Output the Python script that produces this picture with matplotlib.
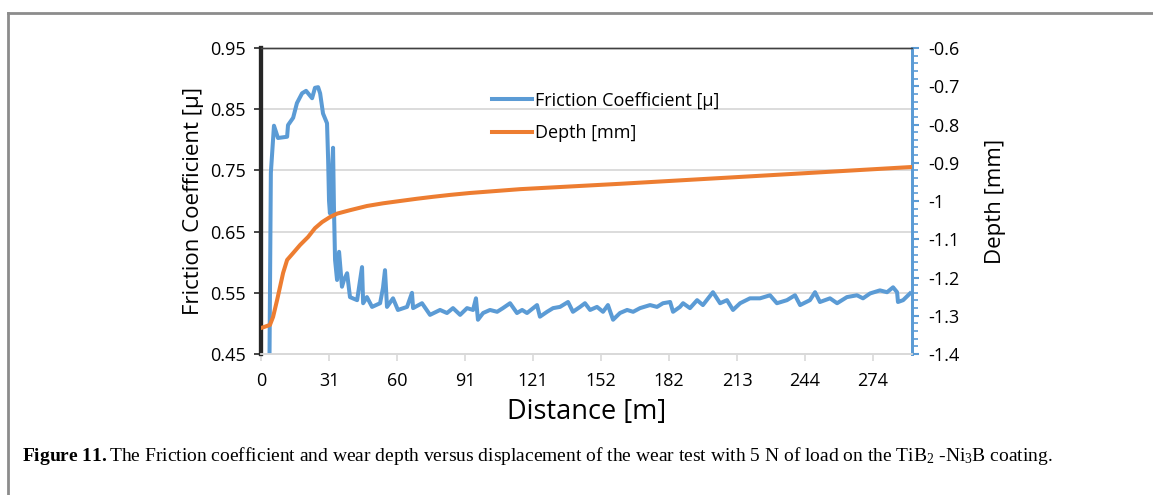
"""Friction coefficient and wear depth versus sliding distance (TiB2-Ni3B coating, 5 N)."""

import matplotlib

matplotlib.use("Agg")
import matplotlib.pyplot as plt  # noqa: E402
import numpy as np  # noqa: E402
from matplotlib.lines import Line2D  # noqa: E402

plt.rcParams["font.family"] = ["Open Sans", "DejaVu Sans"]
plt.rcParams["mathtext.fontset"] = "custom"
plt.rcParams["mathtext.rm"] = "Liberation Serif"
plt.rcParams["mathtext.bf"] = "Liberation Serif:bold"
plt.rcParams["mathtext.it"] = "Liberation Serif:italic"

# --------------------------------------------------------------------------- #
# Data
# --------------------------------------------------------------------------- #
friction_dist = [
    3.5, 4.4, 5.8, 7.6, 11.7, 12.1, 14.4, 16.1, 18.4, 20.2, 22.9, 24.2, 25.6,
    26.5, 27.8, 29.6, 30.1, 30.5, 30.9, 32.3, 32.7, 33.2, 34.1, 35.0, 36.3,
    37.2, 38.6, 39.9, 43.1, 45.3, 45.8, 47.5, 49.8, 53.4, 54.7, 55.6, 56.5,
    59.2, 61.4, 65.5, 67.7, 68.2, 72.2, 75.8, 80.3, 83.4, 86.1, 89.3, 92.4,
    95.1, 96.4, 97.3, 99.6, 102.7, 105.9, 108.5, 111.7, 114.8, 117.1, 119.3,
    123.8, 125.1, 128.3, 131.0, 134.1, 137.7, 139.9, 143.1, 145.3, 147.6,
    150.7, 153.4, 155.6, 157.9, 161.0, 164.2, 166.9, 170.0, 174.5, 177.6,
    180.3, 183.5, 184.8, 187.9, 189.3, 192.4, 195.6, 198.2, 202.7, 205.9,
    209.0, 211.7, 214.9, 219.3, 223.8, 228.3, 231.4, 235.9, 239.5, 241.8,
    246.2, 248.5, 250.7, 255.2, 258.4, 262.8, 267.3, 270.0, 273.2, 277.6,
    280.8, 283.5, 285.3, 285.7, 288.0, 291.1,
]
friction_mu = [
    0.30, 0.746, 0.823, 0.803, 0.805, 0.824, 0.836, 0.860, 0.876, 0.880,
    0.868, 0.885, 0.886, 0.876, 0.843, 0.827, 0.767, 0.700, 0.680, 0.787,
    0.690, 0.604, 0.571, 0.617, 0.560, 0.571, 0.582, 0.543, 0.538, 0.592,
    0.533, 0.543, 0.527, 0.533, 0.558, 0.587, 0.527, 0.541, 0.522, 0.527,
    0.550, 0.525, 0.533, 0.514, 0.522, 0.517, 0.525, 0.514, 0.525, 0.522,
    0.541, 0.506, 0.517, 0.522, 0.519, 0.525, 0.533, 0.517, 0.522, 0.517,
    0.530, 0.511, 0.519, 0.525, 0.527, 0.535, 0.519, 0.527, 0.533, 0.522,
    0.527, 0.519, 0.530, 0.506, 0.517, 0.522, 0.519, 0.525, 0.530, 0.527,
    0.533, 0.535, 0.519, 0.527, 0.533, 0.525, 0.538, 0.530, 0.551, 0.533,
    0.538, 0.522, 0.533, 0.541, 0.541, 0.546, 0.533, 0.538, 0.546, 0.530,
    0.538, 0.551, 0.535, 0.541, 0.533, 0.543, 0.546, 0.541, 0.549, 0.554,
    0.551, 0.559, 0.551, 0.535, 0.538, 0.549,
]

depth_dist = [
    0.0, 4.0, 5.4, 7.2, 8.5, 9.9, 11.7, 14.4, 17.5, 21.1, 24.2, 27.4, 30.9,
    34.1, 39.9, 47.5, 54.7, 62.3, 70.0, 77.1, 84.8, 93.7, 116.2, 138.6,
    161.0, 196.9, 241.8, 292.0,
]
depth_mm = [
    -1.332, -1.324, -1.303, -1.259, -1.225, -1.188, -1.154, -1.136, -1.115,
    -1.094, -1.071, -1.055, -1.042, -1.033, -1.024, -1.013, -1.006, -1.000,
    -0.994, -0.989, -0.984, -0.979, -0.969, -0.962, -0.955, -0.943, -0.928,
    -0.911,
]

x_tick_labels = ["0", "31", "60", "91", "121", "152", "182", "213", "244", "274"]
x_tick_step = 30.5
mu_ticks = [0.45, 0.55, 0.65, 0.75, 0.85, 0.95]
depth_ticks = [-1.4, -1.3, -1.2, -1.1, -1.0, -0.9, -0.8, -0.7, -0.6]
depth_tick_labels = ["-1.4", "-1.3", "-1.2", "-1.1", "-1", "-0.9", "-0.8", "-0.7", "-0.6"]

BLUE = "#5B9BD5"
ORANGE = "#ED7D31"
GRID = "#D9D9D9"


def main() -> None:
    fig = plt.figure(figsize=(11.53, 4.95), dpi=100)
    ax = fig.add_axes((0.2264, 0.2848, 0.5646, 0.6182))
    ax2 = ax.twinx()

    # grid + spines
    ax.set_ylim(0.45, 0.95)
    ax.set_xlim(0, 292)
    ax.set_yticks(mu_ticks)
    ax.set_yticklabels([f"{v:.2f}" for v in mu_ticks])
    ax.yaxis.grid(True, color=GRID, lw=1.3)
    ax.set_axisbelow(True)
    ax.set_xticks(np.arange(len(x_tick_labels)) * x_tick_step)
    ax.set_xticklabels(x_tick_labels)

    for a in (ax, ax2):
        a.spines["top"].set_color("#404040")
        a.spines["top"].set_linewidth(1.0)
        a.spines["bottom"].set_color(GRID)
        a.spines["bottom"].set_linewidth(1.3)
        a.spines["left"].set_color("#262626")
        a.spines["left"].set_linewidth(3.0)
        a.spines["right"].set_color(BLUE)
        a.spines["right"].set_linewidth(2.0)

    ax.tick_params(axis="y", direction="out", length=5, width=1.2, color="#262626",
                   labelsize=13, pad=6)
    ax.tick_params(axis="x", direction="out", length=5, width=1.2, color=GRID,
                   labelsize=13, pad=8)

    ax2.set_ylim(-1.4, -0.6)
    ax2.set_yticks(depth_ticks)
    ax2.set_yticklabels(depth_tick_labels)
    ax2.set_yticks(np.arange(-1.4, -0.599, 0.02), minor=True)
    ax2.tick_params(axis="y", which="major", direction="out", length=5, width=1.5,
                    color=BLUE, labelsize=13, pad=7)
    ax2.tick_params(axis="y", which="minor", direction="out", length=4, width=1.2,
                    color=BLUE)

    # series
    ax.plot(friction_dist, friction_mu, color=BLUE, lw=2.9, solid_joinstyle="round",
            label="Friction Coefficient [μ]", zorder=3)
    ax2.plot(depth_dist, depth_mm, color=ORANGE, lw=2.9, solid_joinstyle="round",
             label="Depth [mm]", zorder=3)

    h1, l1 = ax.get_legend_handles_labels()
    h2, l2 = ax2.get_legend_handles_labels()
    ax2.legend(h1 + h2, l1 + l2, loc="upper left", bbox_to_anchor=(0.33, 0.91),
               frameon=False, fontsize=13, handlelength=2.2, handletextpad=0.15,
               labelspacing=0.8)

    ax.set_ylabel("Friction Coefficient [μ]", fontsize=16, labelpad=4)
    ax2.set_ylabel("Depth [mm]", fontsize=16, labelpad=18)
    ax.set_xlabel("Distance [m]", fontsize=19.5, labelpad=6)

    # page frame (cropped on the right and bottom)
    fig.add_artist(Line2D([8 / 1153, 1.0], [1 - 13 / 495, 1 - 13 / 495],
                          color="#8C8C8C", lw=2.0))
    fig.add_artist(Line2D([8 / 1153, 8 / 1153], [0.0, 1 - 13 / 495],
                          color="#8C8C8C", lw=2.0))

    fig.text(22 / 1153, 1 - 456 / 495,
             r"$\mathbf{Figure\ 11.}$The Friction coefficient and wear depth versus "
             r"displacement of the wear test with 5 N of load on the TiB$_2$ -Ni$_3$B coating.",
             fontsize=14, family="Liberation Serif", va="center", ha="left")

    fig.savefig("out.png", dpi=100)
    plt.close(fig)


if __name__ == "__main__":
    main()
